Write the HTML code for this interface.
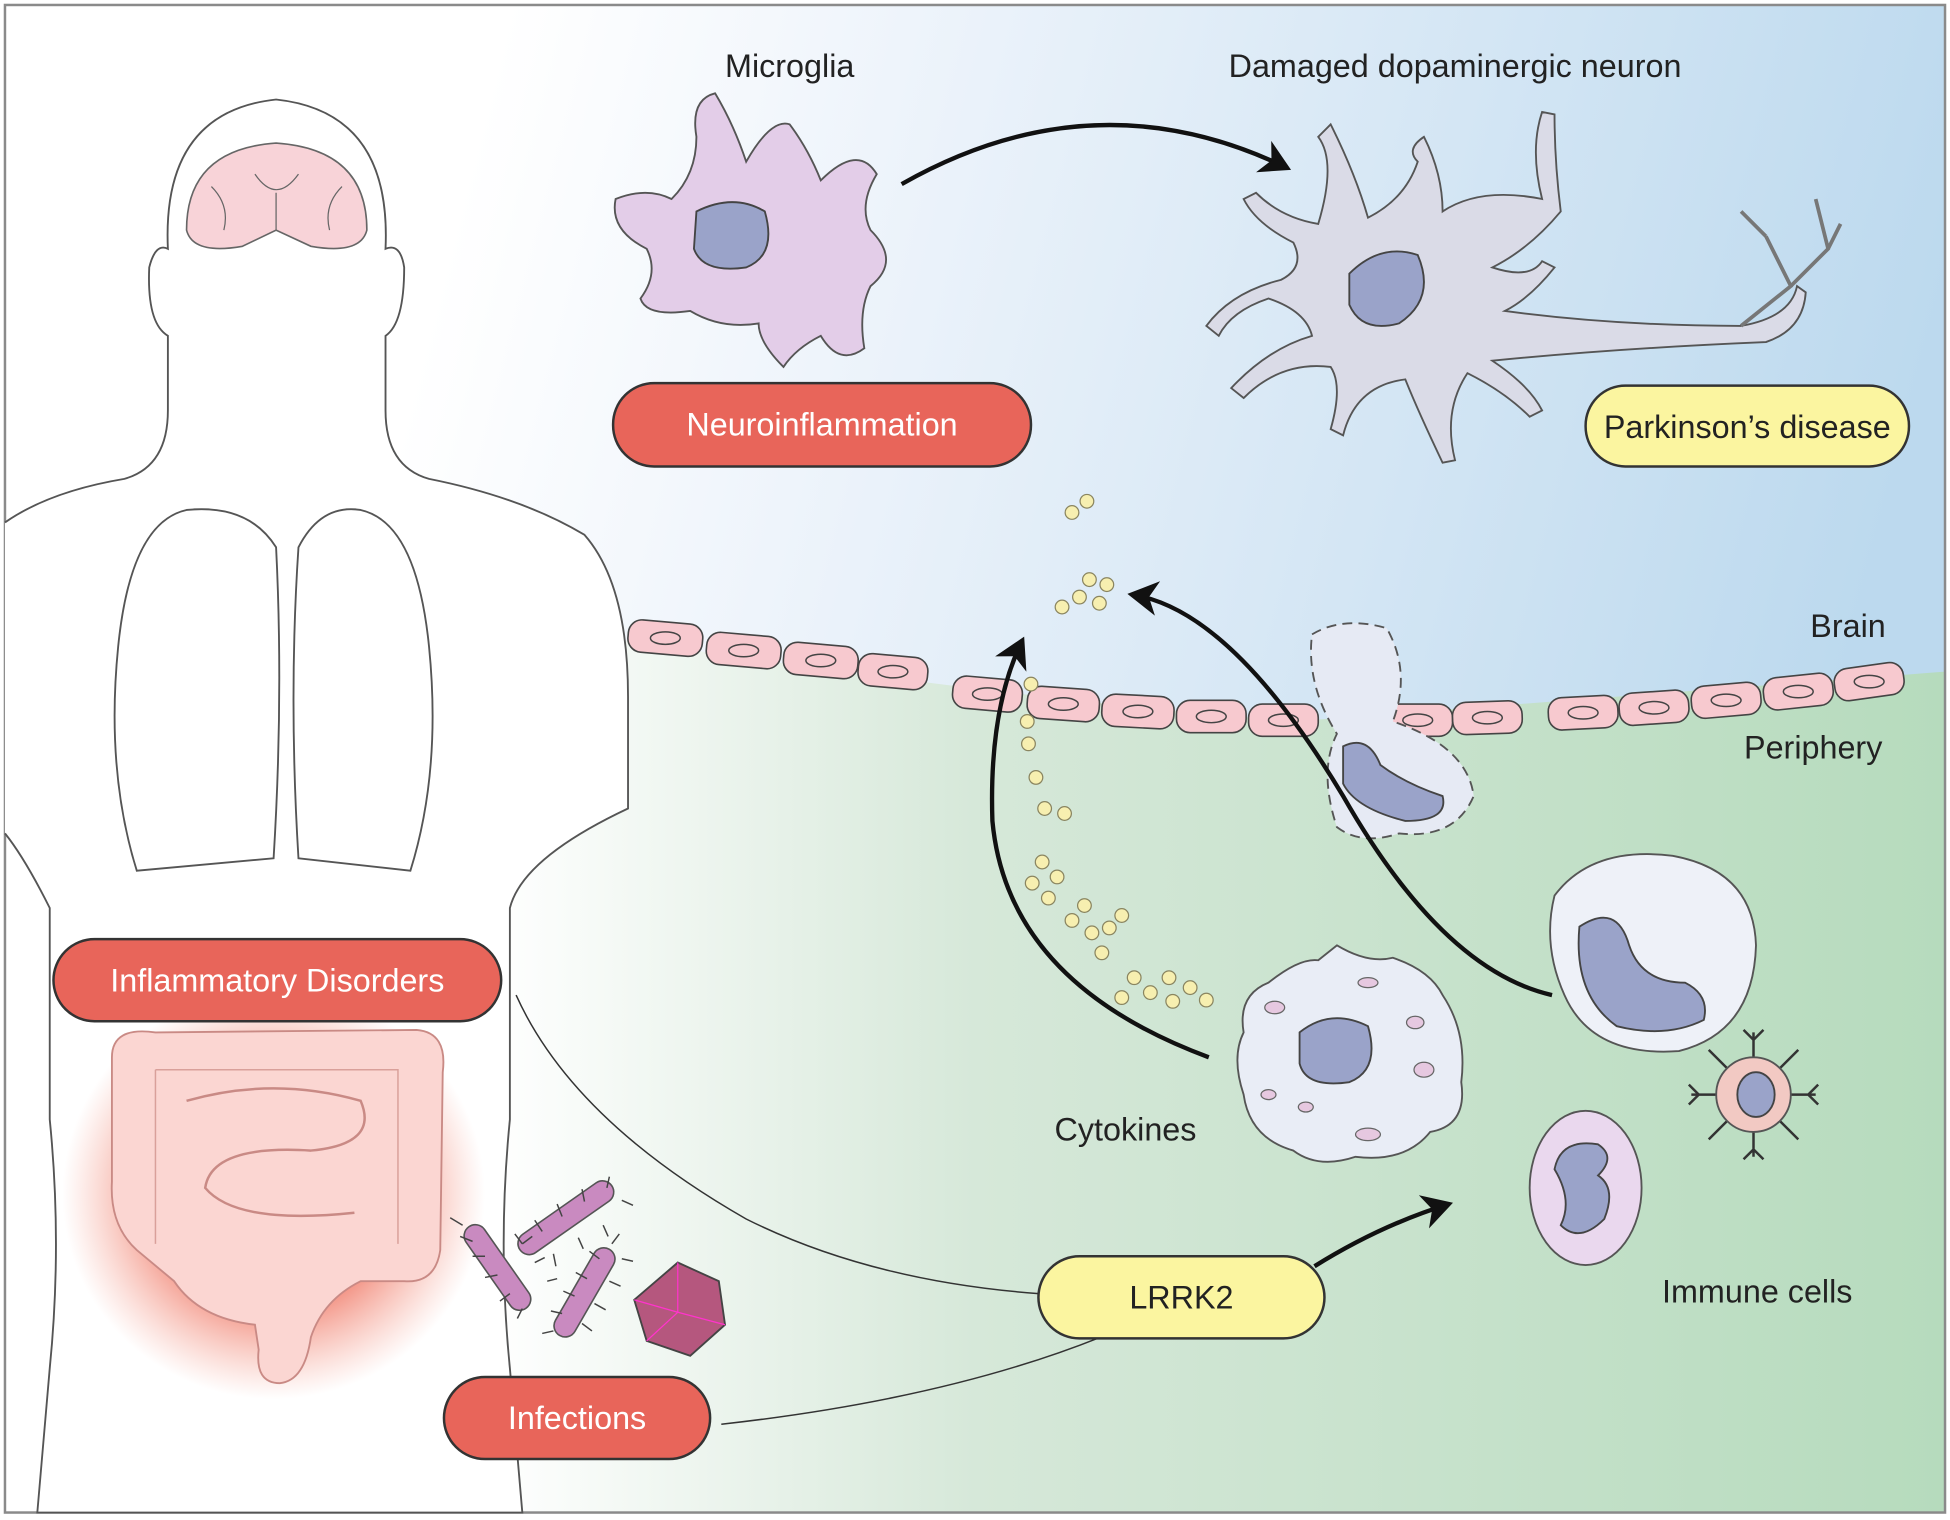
<!DOCTYPE html>
<html><head><meta charset="utf-8"><style>
html,body{margin:0;padding:0;background:#fff}
svg{display:block}
text{font-family:"Liberation Sans","DejaVu Sans",sans-serif}
</style></head><body>
<svg width="1950" height="1520" viewBox="0 0 1568 1222" preserveAspectRatio="none" xmlns="http://www.w3.org/2000/svg">
<defs>
<linearGradient id="gb" x1="0" y1="0" x2="1" y2="0.2">
<stop offset="0.25" stop-color="#ffffff"/><stop offset="0.45" stop-color="#eef4fb"/><stop offset="1" stop-color="#bcd9ee"/></linearGradient>
<linearGradient id="gg" x1="0" y1="0" x2="1" y2="0">
<stop offset="0.25" stop-color="#ffffff"/><stop offset="0.5" stop-color="#d6e8d9"/><stop offset="1" stop-color="#b6dbbd"/></linearGradient>
<radialGradient id="glow" cx="0.5" cy="0.5" r="0.5"><stop offset="0.55" stop-color="#f07a68" stop-opacity="0.85"/><stop offset="1" stop-color="#f5a090" stop-opacity="0"/></radialGradient>
<marker id="ah" markerWidth="8" markerHeight="8" refX="6" refY="4" orient="auto" markerUnits="strokeWidth"><path d="M0,0 L7,4 L0,8 L2,4z" fill="#111"/></marker>
</defs>
<rect x="0" y="0" width="1568" height="1222" fill="#fff"/>
<rect x="4" y="4" width="1560" height="1212" fill="url(#gb)"/>
<path d="M4,520 L505,515 Q800,560 1040,580 Q1300,560 1564,540 L1564,1216 L4,1216Z" fill="url(#gg)"/>
<rect x="4" y="4" width="1560" height="1212" fill="none" stroke="#8a8a8a" stroke-width="2"/>
<!-- body -->
<path d="M4,420 Q40,395 100,385 Q135,375 135,330 L135,270 Q118,260 120,215 Q125,195 135,200 Q130,90 222,80 Q315,90 310,200 Q322,195 325,215 Q325,260 310,270 L310,330 Q310,375 345,385 Q420,400 470,430 Q505,470 505,560 L505,650 Q420,690 410,730 L410,900 Q400,1000 410,1100 L420,1216 L30,1216 L40,1100 Q50,1000 40,900 L40,730 Q20,690 4,670" fill="#fff" stroke="#555" stroke-width="1.5"/>
<path d="M150,410 Q105,420 95,520 Q85,620 110,700 L220,690 Q228,560 222,440 Q200,405 150,410Z M290,410 Q335,420 345,520 Q355,620 330,700 L240,690 Q232,560 240,440 Q258,405 290,410Z" fill="#fff" stroke="#555" stroke-width="1.5"/>
<path d="M150,185 Q150,120 222,115 Q295,120 295,185 Q290,205 250,198 L222,185 L195,198 Q155,205 150,185Z" fill="#f8d3d8" stroke="#666" stroke-width="1.3"/>
<path d="M205,140 Q222,165 240,140 M222,155 L222,185 M170,150 Q185,165 180,185 M275,150 Q260,165 265,185" fill="none" stroke="#666" stroke-width="1"/>
<!-- intestines -->
<ellipse cx="220" cy="960" rx="170" ry="165" fill="url(#glow)"/>
<path d="M90,850 Q90,825 125,830 L335,828 Q360,830 356,862 L354,1005 Q350,1032 325,1030 L290,1030 Q260,1045 250,1075 Q245,1110 225,1112 Q205,1112 208,1085 L205,1065 Q160,1060 140,1030 L110,1005 Q88,985 90,950Z" fill="#fbd6d2" stroke="#c98a85" stroke-width="1.5"/>
<path d="M125,860 L320,860 L320,1000 M125,860 L125,1000" fill="none" stroke="#d9a09a" stroke-width="1.2"/>
<path d="M150,885 Q220,865 290,885 Q305,920 250,925 Q170,920 165,955 Q190,985 285,975" fill="none" stroke="#c98a85" stroke-width="2"/>
<!-- microglia -->
<path d="M560,110 Q555,80 575,75 Q590,100 600,130 Q620,95 635,100 Q650,120 660,145 Q690,115 705,140 Q690,165 700,185 Q725,210 700,230 Q690,250 695,280 Q675,295 660,270 Q640,280 630,295 Q610,275 610,260 Q580,265 555,250 Q520,255 515,240 Q530,220 520,200 Q490,185 495,160 Q520,150 540,160 Q560,140 560,110Z" fill="#e3cde8" stroke="#555" stroke-width="1.5"/>
<path d="M560,170 Q590,155 615,170 Q625,205 600,215 Q565,220 558,200Z" fill="#9aa3c9" stroke="#444" stroke-width="1.5"/>
<!-- neuron -->
<path d="M1040,195 Q1010,180 1000,160 L1010,155 Q1030,175 1060,180 Q1075,130 1060,110 L1070,100 Q1090,140 1100,175 Q1130,160 1140,130 Q1130,120 1145,110 Q1160,140 1160,170 Q1190,150 1240,160 Q1230,120 1240,90 L1250,92 Q1250,130 1255,170 Q1230,200 1200,215 Q1230,225 1240,210 L1250,215 Q1230,240 1210,250 Q1300,262 1400,262 Q1440,255 1445,230 L1452,235 Q1450,265 1420,275 Q1300,280 1200,290 Q1230,310 1240,330 L1230,335 Q1210,315 1180,300 Q1160,330 1170,370 L1160,372 Q1140,330 1130,305 Q1090,310 1080,350 L1070,345 Q1080,310 1070,295 Q1030,290 1000,320 L990,312 Q1020,280 1055,270 Q1050,250 1020,240 Q990,250 980,270 L970,262 Q990,235 1030,225 Q1050,215 1040,195Z" fill="#dadbe7" stroke="#555" stroke-width="1.5"/>
<path d="M1085,220 Q1110,195 1140,205 Q1155,240 1125,260 Q1095,268 1085,245Z" fill="#9aa3c9" stroke="#444" stroke-width="1.5"/>
<path d="M1400,262 L1440,230 L1420,190 M1440,230 L1470,200 L1460,160 M1420,190 L1400,170 M1470,200 L1480,180" fill="none" stroke="#777" stroke-width="3"/>
<path d="M725,148 Q880,60 1035,135" fill="none" stroke="#111" stroke-width="3.5" marker-end="url(#ah)"/>
<!-- membrane cells -->
<g fill="#f7c9cf" stroke="#444" stroke-width="1.3">
<rect x="505" y="500" width="60" height="26" rx="11" transform="rotate(5 535 513)"/>
<rect x="568" y="510" width="60" height="26" rx="11" transform="rotate(5 598 523)"/>
<rect x="630" y="518" width="60" height="26" rx="11" transform="rotate(5 660 531)"/>
<rect x="690" y="527" width="56" height="26" rx="11" transform="rotate(5 718 540)"/>
<rect x="766" y="545" width="56" height="26" rx="11" transform="rotate(5 794 558)"/>
<rect x="826" y="553" width="58" height="26" rx="11" transform="rotate(4 855 566)"/>
<rect x="886" y="559" width="58" height="26" rx="11" transform="rotate(3 915 572)"/>
<rect x="946" y="563" width="56" height="26" rx="11"/>
<rect x="1004" y="566" width="56" height="26" rx="11"/>
<rect x="1112" y="566" width="56" height="26" rx="11"/>
<rect x="1168" y="564" width="56" height="26" rx="11" transform="rotate(-2 1196 577)"/>
<rect x="1245" y="560" width="56" height="26" rx="11" transform="rotate(-3 1273 573)"/>
<rect x="1302" y="556" width="56" height="26" rx="11" transform="rotate(-4 1330 569)"/>
<rect x="1360" y="550" width="56" height="26" rx="11" transform="rotate(-5 1388 563)"/>
<rect x="1418" y="543" width="56" height="26" rx="11" transform="rotate(-6 1446 556)"/>
<rect x="1475" y="535" width="56" height="26" rx="11" transform="rotate(-8 1503 548)"/>
</g>
<g fill="none" stroke="#444" stroke-width="1.2">
<ellipse cx="535" cy="513" rx="12" ry="5"/><ellipse cx="598" cy="523" rx="12" ry="5"/><ellipse cx="660" cy="531" rx="12" ry="5"/><ellipse cx="718" cy="540" rx="12" ry="5"/><ellipse cx="794" cy="558" rx="12" ry="5"/><ellipse cx="855" cy="566" rx="12" ry="5"/><ellipse cx="915" cy="572" rx="12" ry="5"/><ellipse cx="974" cy="576" rx="12" ry="5"/><ellipse cx="1032" cy="579" rx="12" ry="5"/><ellipse cx="1140" cy="579" rx="12" ry="5"/><ellipse cx="1196" cy="577" rx="12" ry="5"/><ellipse cx="1273" cy="573" rx="12" ry="5"/><ellipse cx="1330" cy="569" rx="12" ry="5"/><ellipse cx="1388" cy="563" rx="12" ry="5"/><ellipse cx="1446" cy="556" rx="12" ry="5"/><ellipse cx="1503" cy="548" rx="12" ry="5"/>
</g>
<path d="M1055,510 Q1080,495 1115,505 Q1135,540 1120,580 Q1180,600 1185,640 Q1170,675 1125,670 Q1095,680 1075,665 Q1060,620 1075,590 Q1050,550 1055,510Z" fill="#e6eaf4" stroke="#555" stroke-width="1.5" stroke-dasharray="8,5"/>
<path d="M1080,600 Q1100,590 1110,615 Q1130,630 1160,640 Q1165,660 1130,660 Q1090,650 1080,630Z" fill="#9aa3c9" stroke="#444" stroke-width="1.5"/>
<g fill="#f7efb0" stroke="#8a8560" stroke-width="1">
<circle cx="862" cy="412" r="5.5"/><circle cx="874" cy="403" r="5.5"/>
<circle cx="876" cy="466" r="5.5"/><circle cx="890" cy="470" r="5.5"/><circle cx="868" cy="480" r="5.5"/><circle cx="854" cy="488" r="5.5"/><circle cx="884" cy="485" r="5.5"/>
<circle cx="829" cy="550" r="5.5"/><circle cx="826" cy="580" r="5.5"/><circle cx="827" cy="598" r="5.5"/><circle cx="833" cy="625" r="5.5"/><circle cx="840" cy="650" r="5.5"/><circle cx="856" cy="654" r="5.5"/>
<circle cx="838" cy="693" r="5.5"/><circle cx="850" cy="705" r="5.5"/><circle cx="830" cy="710" r="5.5"/><circle cx="843" cy="722" r="5.5"/><circle cx="872" cy="728" r="5.5"/><circle cx="862" cy="740" r="5.5"/><circle cx="878" cy="750" r="5.5"/><circle cx="892" cy="746" r="5.5"/><circle cx="902" cy="736" r="5.5"/><circle cx="886" cy="766" r="5.5"/>
<circle cx="912" cy="786" r="5.5"/><circle cx="925" cy="798" r="5.5"/><circle cx="940" cy="786" r="5.5"/><circle cx="957" cy="794" r="5.5"/><circle cx="943" cy="805" r="5.5"/><circle cx="902" cy="802" r="5.5"/><circle cx="970" cy="804" r="5.5"/>
</g>
<path d="M972,850 Q810,790 798,660 Q795,570 822,515" fill="none" stroke="#111" stroke-width="3.5" marker-end="url(#ah)"/>
<path d="M1248,800 Q1160,780 1080,640 Q990,490 910,478" fill="none" stroke="#111" stroke-width="3.5" marker-end="url(#ah)"/>
<path d="M1057,1018 Q1110,985 1165,968" fill="none" stroke="#111" stroke-width="3.5" marker-end="url(#ah)"/>
<path d="M415,800 Q460,900 600,980 Q700,1030 835,1040" fill="none" stroke="#333" stroke-width="1.2"/>
<path d="M580,1145 Q760,1125 885,1075" fill="none" stroke="#333" stroke-width="1.2"/>
<!-- macrophage -->
<path d="M1020,790 Q1045,770 1060,772 L1075,760 Q1100,775 1120,770 Q1150,780 1160,800 Q1180,830 1175,870 Q1180,905 1150,910 Q1130,935 1090,930 Q1060,940 1040,925 Q1005,915 1000,880 Q990,850 1000,830 Q995,800 1020,790Z" fill="#e9edf6" stroke="#555" stroke-width="1.5"/>
<path d="M1045,830 Q1070,810 1100,825 Q1110,860 1085,870 Q1050,875 1045,855Z" fill="#9aa3c9" stroke="#444" stroke-width="1.5"/>
<g fill="#e6c8e0" stroke="#666" stroke-width="1"><ellipse cx="1025" cy="810" rx="8" ry="5"/><ellipse cx="1100" cy="790" rx="8" ry="4"/><ellipse cx="1138" cy="822" rx="7" ry="5"/><ellipse cx="1145" cy="860" rx="8" ry="6"/><ellipse cx="1100" cy="912" rx="10" ry="5"/><ellipse cx="1050" cy="890" rx="6" ry="4"/><ellipse cx="1020" cy="880" rx="6" ry="4"/></g>
<path d="M1250,720 Q1280,680 1345,688 Q1410,700 1412,760 Q1410,830 1350,845 Q1280,850 1258,800 Q1240,760 1250,720Z" fill="#eef1f8" stroke="#555" stroke-width="1.5"/>
<path d="M1270,745 Q1300,725 1310,760 Q1320,790 1355,790 Q1375,800 1370,820 Q1340,835 1300,825 Q1265,800 1270,745Z" fill="#9aa3c9" stroke="#444" stroke-width="1.5"/>
<ellipse cx="1275" cy="955" rx="45" ry="62" fill="#ead8ee" stroke="#555" stroke-width="1.5"/>
<path d="M1250,940 Q1255,915 1285,920 Q1300,930 1285,945 Q1300,955 1290,980 Q1270,1000 1255,985 Q1265,965 1250,940Z" fill="#9aa3c9" stroke="#444" stroke-width="1.5"/>
<g stroke="#333" stroke-width="2" fill="none">
<path d="M1410,880 L1410,830 M1402,828 L1410,836 L1418,828 M1410,880 L1460,880 M1462,872 L1454,880 L1462,888 M1410,880 L1360,880 M1358,872 L1366,880 L1358,888 M1410,880 L1410,930 M1402,932 L1410,924 L1418,932 M1410,880 L1446,844 M1410,880 L1374,844 M1410,880 L1446,916 M1410,880 L1374,916"/>
</g>
<circle cx="1410" cy="880" r="30" fill="#f2c9c3" stroke="#555" stroke-width="1.5"/>
<ellipse cx="1412" cy="880" rx="15" ry="18" fill="#9aa3c9" stroke="#444" stroke-width="1.5"/>
<!-- bacteria & virus -->
<g stroke="#555" stroke-width="1.3" fill="#c98ac0">
<rect x="360" y="1010" width="80" height="18" rx="9" transform="rotate(55 400 1019)"/>
<rect x="410" y="970" width="90" height="18" rx="9" transform="rotate(-35 455 979)"/>
<rect x="430" y="1030" width="80" height="18" rx="9" transform="rotate(-60 470 1039)"/>
</g>
<g stroke="#444" stroke-width="1.2">
<path d="M372,985 l-10,-6 M380,998 l-10,-4 M390,1010 l-10,0 M400,1025 l-10,2 M410,1040 l-8,6 M420,1052 l-4,8 M420,1000 l8,-6 M430,1015 l8,-4 M440,1030 l8,-2"/>
<path d="M420,1000 l-6,-8 M436,990 l-6,-9 M452,978 l-4,-10 M470,966 l-2,-10 M488,955 l2,-9 M500,965 l9,4 M485,985 l4,9 M465,995 l4,9 M445,1008 l2,10"/>
<path d="M445,1070 l-9,2 M452,1056 l-9,-2 M462,1042 l-9,-4 M472,1028 l-9,-5 M482,1012 l-8,-6 M492,1000 l6,-8 M500,1012 l9,2 M490,1030 l9,4 M478,1048 l9,5 M468,1064 l8,6"/>
</g>
<polygon points="545,1015 578,1030 583,1065 555,1090 520,1078 510,1045" fill="#b5577e" stroke="#444" stroke-width="1.5"/>
<path d="M545,1015 L545,1055 L583,1065 M545,1055 L520,1078 M545,1055 L510,1045" stroke="#f3c" stroke-width="1" fill="none"/>
<g stroke="#333" stroke-width="2">
<rect x="43" y="755" width="360" height="66" rx="33" fill="#e8655a"/>
<rect x="493" y="308" width="336" height="67" rx="33" fill="#e8655a"/>
<rect x="357" y="1107" width="214" height="66" rx="33" fill="#e8655a"/>
<rect x="835" y="1010" width="230" height="66" rx="33" fill="#fbf5a0"/>
<rect x="1275" y="310" width="260" height="65" rx="32" fill="#fbf5a0"/>
</g>
<g font-size="26" text-anchor="middle">
<text x="223" y="797" fill="#fff">Inflammatory Disorders</text>
<text x="661" y="350" fill="#fff">Neuroinflammation</text>
<text x="464" y="1149" fill="#fff">Infections</text>
<text x="950" y="1052" fill="#222">LRRK2</text>
<text x="1405" y="352" fill="#222">Parkinson’s disease</text>
<text x="635" y="62" fill="#222">Microglia</text>
<text x="1170" y="62" fill="#222">Damaged dopaminergic neuron</text>
<text x="1486" y="512" fill="#222">Brain</text>
<text x="1458" y="610" fill="#222">Periphery</text>
<text x="905" y="917" fill="#222">Cytokines</text>
<text x="1413" y="1047" fill="#222">Immune cells</text>
</g>
</svg>
</body></html>
